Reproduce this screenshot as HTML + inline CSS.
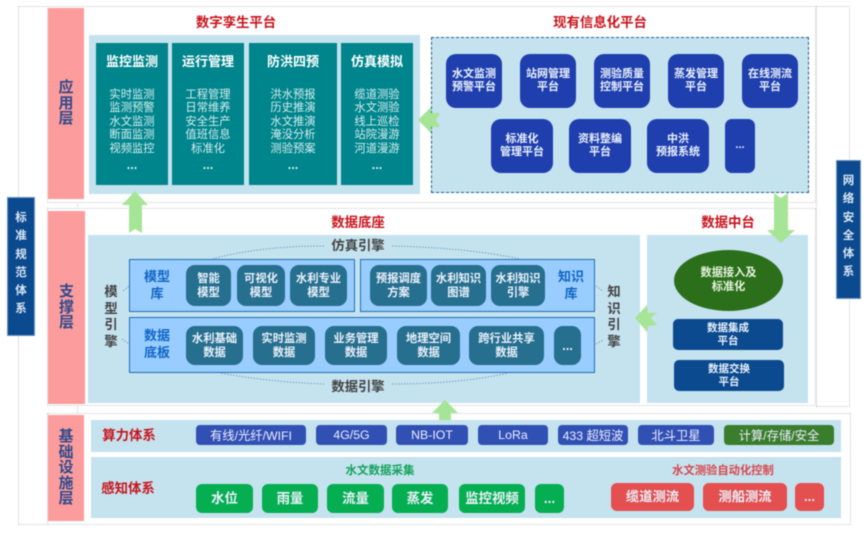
<!DOCTYPE html>
<html><head><meta charset="utf-8"><style>
html,body{margin:0;padding:0;background:#fff}
#p{position:relative;width:866px;height:536px;overflow:hidden;background:#fff;font-family:"Liberation Sans","Noto Sans CJK SC",sans-serif;filter:blur(.4px)}
#p div{position:absolute;box-sizing:border-box}
.f{border:1px dotted #c4c8cc}
.pk{background:#fd9c9c;color:#2f4a8c;font-weight:700;font-size:15px;line-height:15.6px;display:flex;align-items:center;justify-content:center;text-align:center}
.pn{background:#c5e2ef}
.t{color:#c8141c;font-weight:700;font-size:13.4px;line-height:16px;text-align:center;white-space:nowrap}
.c{background:#00858c;color:#d5eef0;text-align:center;font-size:11.3px;line-height:13.6px;top:43px;height:142px;padding-top:45.5px}
.c b{position:absolute;left:0;right:0;top:11px;font-size:13px;color:#fff;line-height:16px}
.c i{position:absolute;left:0;right:0;top:115px;font-style:normal;font-size:13px;font-weight:700}
.b,.g,.s,.m{display:flex;align-items:center;justify-content:center;text-align:center;color:#e9f1fb;font-weight:700}
.b{background:#1f3fae;border-radius:10px;font-size:11px;line-height:13.5px;height:54px}
.g{background:#266f8f;border-radius:9px;font-size:11.3px;line-height:14px}
.s{background:#3150b4;border-radius:4px;font-size:12.3px;top:425px;height:20px;font-weight:400;color:#eef}
.m{background:#0b4a8f;border-radius:5px;font-size:10.5px;line-height:12.5px;height:31px}
.l{background:#99ccff;border:1px solid #1f6fb5}
.lb{color:#1166c4;font-weight:700;font-size:13px;line-height:17px;text-align:center}
.e{color:#444;font-weight:700;font-size:13.3px;line-height:16.6px;text-align:center;white-space:nowrap}
.gr{background:#06ae52;border-radius:6px;top:484px;height:29px;font-size:13.4px}
.rd{background:#e44f4f;border-radius:6px;top:483px;height:28px;font-size:13.3px}
.sd{background:#0b4a8f;border:1px solid #6e94bd;color:#d9e6f3;font-weight:700;font-size:11.5px;line-height:18.3px;text-align:center}
</style></head><body><div id="p">
<div class="f" style="left:18px;top:6px;width:60px;height:519px"></div>
<div class="f" style="left:816px;top:6px;width:34px;height:401px"></div>
<div class="f" style="left:47px;top:6px;width:769px;height:197px;background:#fff"></div>
<div class="f" style="left:47px;top:208px;width:769px;height:198px;background:#fff"></div>
<div class="f" style="left:47px;top:413px;width:804px;height:112px;background:#fff"></div>

<div class="pk" style="left:48px;top:8px;width:36px;height:191px">应<br>用<br>层</div>
<div class="pk" style="left:48px;top:211px;width:37px;height:193px">支<br>撑<br>层</div>
<div class="pk" style="left:48px;top:415px;width:36px;height:106px">基<br>础<br>设<br>施<br>层</div>

<div class="sd" style="left:7px;top:197px;width:28px;height:139px;padding-top:11px">标<br>准<br>规<br>范<br>体<br>系</div>
<div class="sd" style="left:836px;top:160px;width:25px;height:139px;padding-top:11px">网<br>络<br>安<br>全<br>体<br>系</div>

<div class="t" style="left:136px;top:15px;width:200px">数字孪生平台</div>
<div class="t" style="left:500px;top:15px;width:200px">现有信息化平台</div>
<div class="t" style="left:258px;top:215px;width:200px">数据底座</div>
<div class="t" style="left:628px;top:215px;width:200px">数据中台</div>

<div class="pn" style="left:89px;top:35px;width:331px;height:159px"></div>
<div class="c" style="left:96px;width:72px"><b>监控监测</b>实时监测<br>监测预警<br>水文监测<br>断面监测<br>视频监控<i>...</i></div>
<div class="c" style="left:172px;width:72px"><b>运行管理</b>工程管理<br>日常维养<br>安全生产<br>值班信息<br>标准化<i>...</i></div>
<div class="c" style="left:249px;width:88px"><b>防洪四预</b>洪水预报<br>历史推演<br>水文推演<br>淹没分析<br>测验预案<i>...</i></div>
<div class="c" style="left:341px;width:72px"><b>仿真模拟</b>缆道测验<br>水文测验<br>线上巡检<br>站院漫游<br>河道漫游<i>...</i></div>

<div class="pn" style="left:431px;top:37px;width:378px;height:156px;border:1px dashed #1f5f9f"></div>
<div class="b" style="left:446px;top:54px;width:56px">水文监测<br>预警平台</div>
<div class="b" style="left:520px;top:54px;width:56px">站网管理<br>平台</div>
<div class="b" style="left:594px;top:54px;width:56px">测验质量<br>控制平台</div>
<div class="b" style="left:668px;top:54px;width:56px">蒸发管理<br>平台</div>
<div class="b" style="left:742px;top:54px;width:56px">在线测流<br>平台</div>
<div class="b" style="left:491px;top:119px;width:62px">标准化<br>管理平台</div>
<div class="b" style="left:569px;top:119px;width:62px">资料整编<br>平台</div>
<div class="b" style="left:647px;top:119px;width:62px">中洪<br>预报系统</div>
<div class="b" style="left:725px;top:119px;width:30px;border-radius:7px">...</div>

<div class="pn" style="left:88px;top:235px;width:552px;height:168px"></div>
<div class="pn" style="left:647px;top:235px;width:161px;height:168px"></div>

<div class="l" style="left:129px;top:259px;width:226px;height:53px"></div>
<div class="l" style="left:360px;top:259px;width:235px;height:53px"></div>
<div class="l" style="left:129px;top:317px;width:466px;height:56px"></div>
<div class="lb" style="left:137px;top:268px;width:40px">模型<br>库</div>
<div class="lb" style="left:551px;top:268px;width:40px">知识<br>库</div>
<div class="lb" style="left:137px;top:327px;width:40px">数据<br>底板</div>
<div class="g" style="left:186px;top:265px;width:45px;height:41px">智能<br>模型</div>
<div class="g" style="left:237px;top:265px;width:48px;height:41px">可视化<br>模型</div>
<div class="g" style="left:290px;top:265px;width:57px;height:41px">水利专业<br>模型</div>
<div class="g" style="left:370px;top:265px;width:57px;height:41px">预报调度<br>方案</div>
<div class="g" style="left:431px;top:265px;width:55px;height:41px">水利知识<br>图谱</div>
<div class="g" style="left:491px;top:265px;width:54px;height:41px">水利知识<br>引擎</div>
<div class="g" style="left:186px;top:326px;width:57px;height:39px">水利基础<br>数据</div>
<div class="g" style="left:253px;top:326px;width:62px;height:39px">实时监测<br>数据</div>
<div class="g" style="left:325px;top:326px;width:62px;height:39px">业务管理<br>数据</div>
<div class="g" style="left:397px;top:326px;width:63px;height:39px">地理空间<br>数据</div>
<div class="g" style="left:469px;top:326px;width:75px;height:39px">跨行业共享<br>数据</div>
<div class="g" style="left:554px;top:326px;width:27px;height:39px;font-size:13px">...</div>

<div class="e" style="left:258px;top:238px;width:200px">仿真引擎</div>
<div class="e" style="left:258px;top:379px;width:200px">数据引擎</div>
<div class="e" style="left:101px;top:284px;width:20px">模<br>型<br>引<br>擎</div>
<div class="e" style="left:604px;top:284px;width:20px">知<br>识<br>引<br>擎</div>

<div style="left:674px;top:250px;width:109px;height:61px;border-radius:50%;background:#2c6f1a;color:#e6f3df;font-weight:700;font-size:11.2px;line-height:13.5px;display:flex;align-items:center;justify-content:center;text-align:center">数据接入及<br>标准化</div>
<div class="m" style="left:673px;top:319px;width:110px">数据集成<br>平台</div>
<div class="m" style="left:674px;top:360px;width:110px">数据交换<br>平台</div>

<div class="pn" style="left:91px;top:420px;width:750px;height:32px"></div>
<div class="pn" style="left:91px;top:457px;width:750px;height:61px"></div>
<div class="t" style="left:89px;top:428px;width:80px">算力体系</div>
<div class="t" style="left:88px;top:481px;width:80px">感知体系</div>
<div class="s" style="left:196px;width:110px">有线/光纤/WIFI</div>
<div class="s" style="left:316px;width:71px">4G/5G</div>
<div class="s" style="left:396px;width:72px">NB-IOT</div>
<div class="s" style="left:478px;width:70px">LoRa</div>
<div class="s" style="left:558px;width:70px">433 超短波</div>
<div class="s" style="left:638px;width:76px">北斗卫星</div>
<div class="s" style="left:724px;width:110px;background:#3a7d2c">计算/存储/安全</div>
<div class="t" style="left:300px;top:463px;width:160px;color:#13a35a;font-size:11.5px">水文数据采集</div>
<div class="t" style="left:633px;top:463px;width:180px;color:#d9474a;font-size:11.3px">水文测验自动化控制</div>
<div class="g gr" style="left:196px;width:57px">水位</div>
<div class="g gr" style="left:262px;width:56px">雨量</div>
<div class="g gr" style="left:327px;width:57px">流量</div>
<div class="g gr" style="left:392px;width:56px">蒸发</div>
<div class="g gr" style="left:459px;width:66px">监控视频</div>
<div class="g gr" style="left:535px;width:29px">...</div>
<div class="g rd" style="left:611px;width:83px">缆道测流</div>
<div class="g rd" style="left:703px;width:84px">测船测流</div>
<div class="g rd" style="left:795px;width:29px">...</div>

<svg width="866" height="536" style="position:absolute;left:0;top:0" fill="none">
<g stroke="#6aa6c0" stroke-width="1" stroke-dasharray="1.5 1.5">
<path d="M324 246Q260 246 212 259"/>
<path d="M392 246Q470 248 520 259"/>
<path d="M324 384Q270 382 220 373"/>
<path d="M392 384Q460 384 508 373"/>
<path d="M123 291L129 286"/>
<path d="M122 339L129 344"/>
<path d="M596 286L603 291"/>
<path d="M596 344L603 340"/>
</g>
<g fill="#a6e596">
<path d="M135 191L148 205H142V233L135 229L129 233V205H122Z"/>
<path d="M774 193L781 198L788 193V230H795L781 243L767 230H774Z"/>
<path d="M418 120L431 107V113H440L436 120L440 127H431V133Z"/>
<path d="M635 318L647 305L648 313H657L651 318L657 325L648 326L647 332Z"/>
<path d="M445 400L458 413H451V420H439V413H432Z"/>
</g>
</svg>
</div></body></html>
